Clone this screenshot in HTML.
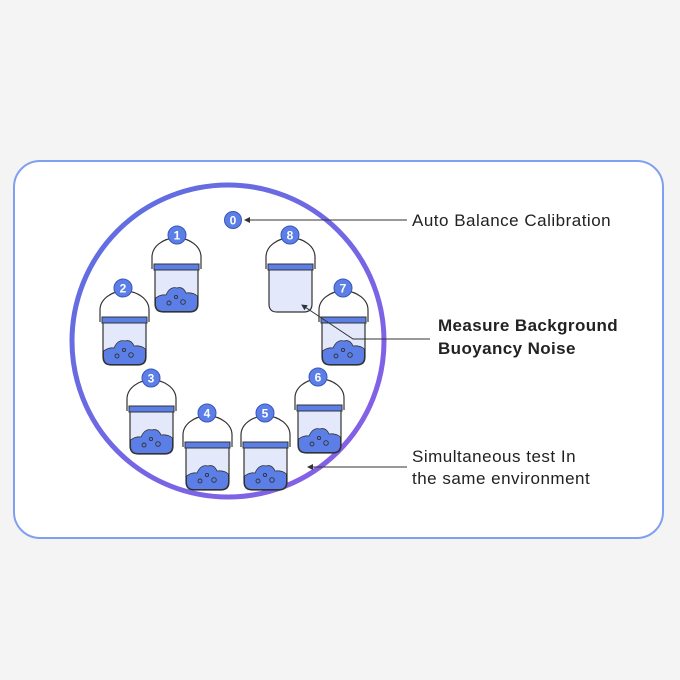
<!DOCTYPE html>
<html><head><meta charset="utf-8"><style>
html,body{margin:0;padding:0;background:#f4f4f4;}
svg{display:block}
text{font-family:"Liberation Sans",sans-serif;}
</style></head><body>
<svg width="680" height="680" viewBox="0 0 680 680" xmlns="http://www.w3.org/2000/svg">
<defs>
<linearGradient id="g" x1="0" y1="0" x2="1" y2="1">
<stop offset="0" stop-color="#5b70e0"/><stop offset="1" stop-color="#8a5ee8"/>
</linearGradient>
<marker id="ar" markerWidth="6" markerHeight="6" refX="5" refY="3" orient="auto"><path d="M0,0 L6,3 L0,6z" fill="#333"/></marker>
<g id="bk">
<path d="M-3 4 L-3 -8 A24.5 19 0 0 1 46 -8 L46 4" fill="none" stroke="#333" stroke-width="1.2"/>
<path d="M0 0 H43 V39 Q43 47 35 47 H8 Q0 47 0 39 Z" fill="#e4e8fb" stroke="#333" stroke-width="1.2"/>
<rect x="-1" y="-1" width="45" height="6" fill="#5b7fe6" stroke="#333" stroke-width="1"/>
</g>
<g id="wt">
<path d="M0.6 33 Q6 29 11 30 Q15 21 22 23 Q28 21 31 28 Q38 27 42.4 31 V39 Q42.4 46.4 35 46.4 H8 Q0.6 46.4 0.6 39 Z" fill="#5b7fe6" stroke="#333" stroke-width="0.8"/>
<circle cx="14" cy="38" r="2" fill="none" stroke="#333" stroke-width="0.9"/>
<circle cx="21" cy="32" r="1.6" fill="none" stroke="#333" stroke-width="0.9"/>
<circle cx="28" cy="37" r="2.3" fill="none" stroke="#333" stroke-width="0.9"/>
</g>
</defs>
<rect x="14" y="161" width="649" height="377" rx="26" fill="#fff" stroke="#7f9ff0" stroke-width="2"/>
<circle cx="228" cy="341" r="156" fill="#fff" stroke="url(#g)" stroke-width="5"/>

<g transform="translate(155,265)"><use href="#bk"/><use href="#wt"/></g>
<g transform="translate(103,318)"><use href="#bk"/><use href="#wt"/></g>
<g transform="translate(130,407)"><use href="#bk"/><use href="#wt"/></g>
<g transform="translate(186,443)"><use href="#bk"/><use href="#wt"/></g>
<g transform="translate(244,443)"><use href="#bk"/><use href="#wt"/></g>
<g transform="translate(298,406)"><use href="#bk"/><use href="#wt"/></g>
<g transform="translate(322,318)"><use href="#bk"/><use href="#wt"/></g>
<g transform="translate(269,265)"><use href="#bk"/></g>

<g fill="#5b7fe6" stroke="#3b55b8" stroke-width="1">
<circle cx="233" cy="220" r="8.5"/><circle cx="177" cy="235" r="9"/><circle cx="123" cy="288" r="9"/>
<circle cx="151" cy="378" r="9"/><circle cx="207" cy="413" r="9"/><circle cx="265" cy="413" r="9"/>
<circle cx="318" cy="377" r="9"/><circle cx="343" cy="288" r="9"/><circle cx="290" cy="235" r="9"/>
</g>
<g fill="#fff" font-size="12" font-weight="bold" text-anchor="middle">
<text x="233" y="224.5">0</text><text x="177" y="239.5">1</text><text x="123" y="292.5">2</text>
<text x="151" y="382.5">3</text><text x="207" y="417.5">4</text><text x="265" y="417.5">5</text>
<text x="318" y="381.5">6</text><text x="343" y="292.5">7</text><text x="290" y="239.5">8</text>
</g>

<g stroke="#333" stroke-width="1" fill="none">
<path d="M407 220 H245" marker-end="url(#ar)"/>
<path d="M430 339 H353 L302 305" marker-end="url(#ar)"/>
<path d="M407 467 H308" marker-end="url(#ar)"/>
</g>
<g fill="#222" font-size="17" letter-spacing="0.5">
<text x="412" y="226">Auto Balance Calibration</text>
<text x="438" y="331" font-weight="bold" letter-spacing="0.4">Measure Background</text>
<text x="438" y="354" font-weight="bold" letter-spacing="0.4">Buoyancy Noise</text>
<text x="412" y="462">Simultaneous test In</text>
<text x="412" y="484">the same environment</text>
</g>
</svg>
</body></html>
